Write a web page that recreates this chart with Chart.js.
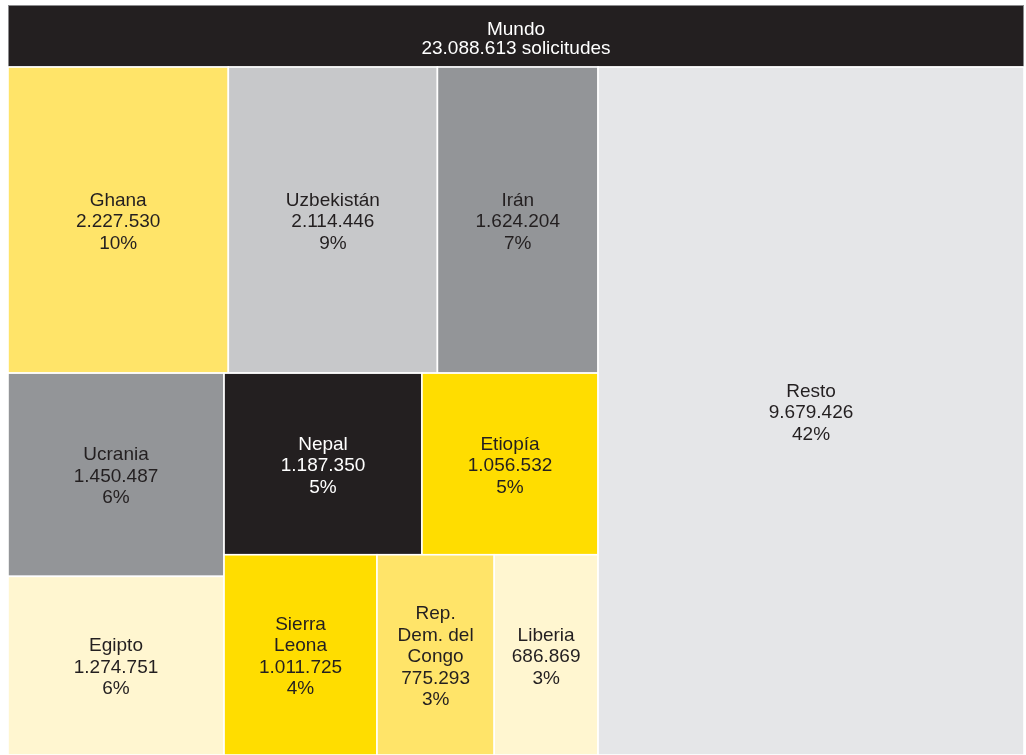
<!DOCTYPE html>
<html>
<head>
<meta charset="utf-8">
<script src="https://cdn.jsdelivr.net/npm/chart.js@4/dist/chart.umd.min.js"></script>
<style>
html,body{margin:0;padding:0;background:#ffffff;}
#wrap{width:1026px;height:755px;position:relative;}
</style>
</head>
<body>
<div id="wrap"><canvas id="c" width="1026" height="755"></canvas></div>
<script>
// ---- Data ----
const rootName = 'Mundo';
const rootUnit = 'solicitudes';
const categories = ['Ghana', 'Uzbekistán', 'Irán', 'Ucrania', 'Egipto', 'Nepal', 'Etiopía', 'Sierra Leona', 'Rep. Dem. del Congo', 'Liberia', 'Resto'];
const values = [2227530, 2114446, 1624204, 1450487, 1274751, 1187350, 1056532, 1011725, 775293, 686869, 9679426];
const colors = ['#FFE469', '#C7C8CA', '#939598', '#939598', '#FFF6D0', '#231F20', '#FFDD00', '#FFDD00', '#FFE469', '#FFF6D0', '#E5E6E8'];
// Nesting of the hierarchy (slice-and-dice); sizes come from the values
const grouping = [
  [
    ['Ghana', 'Uzbekistán', 'Irán'],
    [
      ['Ucrania', 'Egipto'],
      [
        ['Nepal', 'Etiopía'],
        ['Sierra Leona', 'Rep. Dem. del Congo', 'Liberia']
      ]
    ]
  ],
  'Resto'
];

const total = values.reduce((a, b) => a + b, 0);
const headerFrac = 0.0901;

function sumOf(node) {
  if (typeof node === 'string') return values[categories.indexOf(node)];
  return node.reduce((a, n) => a + sumOf(n), 0);
}
const cells = [];
function partition(node, x0, y0, x1, y1, depth) {
  if (typeof node === 'string') {
    cells.push({ name: node, i: categories.indexOf(node), x0, y0, x1, y1 });
    return;
  }
  const s = sumOf(node);
  let acc = 0;
  node.forEach(child => {
    const v = sumOf(child);
    const a = acc / s, b = (acc + v) / s;
    if (depth % 2 === 0) partition(child, x0 + (x1 - x0) * a, y0, x0 + (x1 - x0) * b, y1, depth + 1);
    else partition(child, x0, y0 + (y1 - y0) * a, x1, y0 + (y1 - y0) * b, depth + 1);
    acc += v;
  });
}
partition(grouping, 0, 0, 1, 1, 0);

function fmt(v) { return String(v).replace(/\B(?=(\d{3})+(?!\d))/g, '.'); }
function isDark(hex) {
  const r = parseInt(hex.substr(1, 2), 16), g = parseInt(hex.substr(3, 2), 16), b = parseInt(hex.substr(5, 2), 16);
  return (0.299 * r + 0.587 * g + 0.114 * b) / 255 < 0.35;
}
const FONT = '19px "Liberation Sans", Arial, Helvetica, sans-serif';

function wrap(ctx, text, maxW) {
  const words = text.split(' ');
  const lines = [];
  let cur = '';
  words.forEach(w => {
    const t = cur ? cur + ' ' + w : w;
    if (cur && ctx.measureText(t).width > maxW) { lines.push(cur); cur = w; }
    else cur = t;
  });
  if (cur) lines.push(cur);
  return lines;
}

function drawLines(ctx, lines, cx, cy, color, lh) {
  ctx.fillStyle = color;
  ctx.textAlign = 'center';
  ctx.textBaseline = 'middle';
  const start = cy - (lines.length - 1) * lh / 2;
  lines.forEach((l, k) => ctx.fillText(l, cx, start + k * lh));
}

const treemapPlugin = {
  id: 'treemapCells',
  beforeDatasetsDraw(chart) {
    const { ctx } = chart;
    const xs = chart.scales.x, ys = chart.scales.y;
    ctx.save();
    ctx.font = FONT;
    // root header
    const hx0 = xs.getPixelForValue(0), hx1 = xs.getPixelForValue(1);
    const hy0 = ys.getPixelForValue(-headerFrac), hy1 = ys.getPixelForValue(0);
    ctx.fillStyle = '#231F20';
    ctx.fillRect(hx0, hy0, hx1 - hx0, hy1 - hy0);
    ctx.strokeStyle = '#8C8C8E';
    ctx.lineWidth = 1;
    ctx.strokeRect(hx0 + 0.5, hy0 + 0.5, hx1 - hx0 - 1, hy1 - hy0 - 1);
    drawLines(ctx, [rootName, fmt(total) + ' ' + rootUnit], (hx0 + hx1) / 2, (hy0 + hy1) / 2 + 3, '#FFFFFF', 19);
    // cells
    cells.forEach(c => {
      const px0 = xs.getPixelForValue(c.x0), px1 = xs.getPixelForValue(c.x1);
      const py0 = ys.getPixelForValue(c.y0), py1 = ys.getPixelForValue(c.y1);
      ctx.fillStyle = colors[c.i];
      ctx.fillRect(px0, py0, px1 - px0, py1 - py0);
      ctx.strokeStyle = '#FFFFFF';
      ctx.lineWidth = 1.6;
      ctx.strokeRect(px0, py0, px1 - px0, py1 - py0);
      const w = px1 - px0;
      const lines = wrap(ctx, c.name, w * 0.69);
      lines.push(fmt(values[c.i]));
      lines.push(Math.round(values[c.i] / total * 100) + '%');
      drawLines(ctx, lines, (px0 + px1) / 2, (py0 + py1) / 2 + 2, isDark(colors[c.i]) ? '#FFFFFF' : '#231F20', 21.5);
    });
    ctx.restore();
  }
};

new Chart(document.getElementById('c'), {
  type: 'scatter',
  data: {
    datasets: [{
      label: rootName,
      data: cells.map(c => ({ x: (c.x0 + c.x1) / 2, y: (c.y0 + c.y1) / 2 })),
      pointRadius: 0,
      pointHoverRadius: 0
    }]
  },
  options: {
    responsive: false,
    animation: false,
    layout: { padding: { left: 8, right: 2, top: 5, bottom: 0 } },
    plugins: { legend: { display: false }, tooltip: { enabled: false }, title: { display: false } },
    scales: {
      x: { type: 'linear', min: 0, max: 1, display: false },
      y: { type: 'linear', min: -headerFrac, max: 1, reverse: true, display: false }
    }
  },
  plugins: [treemapPlugin]
});
</script>
</body>
</html>
